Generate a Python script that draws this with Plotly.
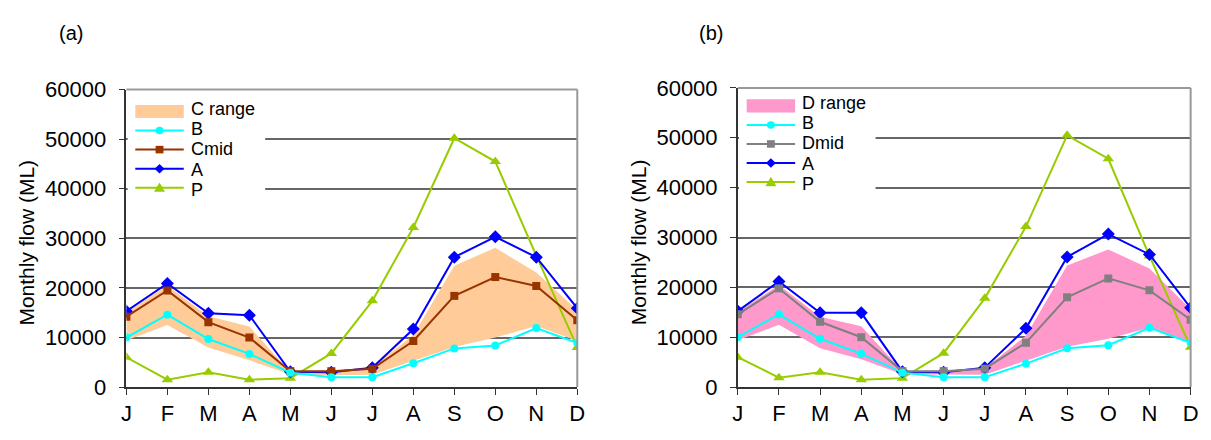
import plotly.graph_objects as go

W, H = 1211, 440

months = ["J", "F", "M", "A", "M", "J", "J", "A", "S", "O", "N", "D"]

# Panel (a)
a_B = [10000, 14600, 9700, 6700, 2900, 2000, 2000, 4800, 7800, 8400, 11900, 8900]
a_Cmid = [14200, 19500, 13100, 10000, 3200, 3200, 3700, 9300, 18400, 22200, 20400, 13500]
a_A = [15300, 20900, 14900, 14500, 3100, 3000, 3900, 11700, 26200, 30300, 26200, 15900]
a_P = [6000, 1500, 3000, 1500, 1800, 6800, 17400, 32200, 50200, 45500, 26500, 8000]
a_C_low = [9400, 12500, 8000, 5400, 2600, 2400, 2500, 5300, 8100, 10000, 12300, 9300]
a_C_high = [15000, 20500, 14300, 12200, 3000, 3300, 4000, 10500, 24500, 28100, 23100, 15500]

# Panel (b)
b_B = [10000, 14600, 9700, 6700, 2900, 2000, 2000, 4700, 7800, 8400, 11900, 8900]
b_Dmid = [14600, 19800, 13100, 10000, 3200, 3200, 3700, 8900, 18000, 21800, 19400, 13500]
b_A = [15250, 21200, 14900, 14900, 3100, 3000, 3900, 11800, 26100, 30700, 26600, 15900]
b_P = [6000, 1900, 3000, 1500, 1800, 6800, 17800, 32200, 50500, 45800, 26300, 8000]
b_D_low = [9400, 12500, 7800, 5600, 2600, 2500, 2500, 5300, 8100, 9700, 11900, 9000]
b_D_high = [15000, 20500, 14100, 12200, 3200, 3400, 3800, 10300, 24400, 27600, 23800, 15600]

yticks = [0, 10000, 20000, 30000, 40000, 50000, 60000]

C_RANGE = "#FFCC99"
D_RANGE = "#FF99CC"
C_B = "#00FFFF"
C_CMID = "#993300"
C_DMID = "#808080"
C_A = "#0000FF"
C_P = "#99CC00"

FONT = "Liberation Sans, Arial, sans-serif"
xpos = list(range(12))


def px(x):
    return x / W


def py(y):
    return 1 - y / H


fig = go.Figure()


def add_panel(xa, ya, low, high, rng_col, rng_name, B, mid, mid_col, mid_name, A, P):
    fig.add_trace(go.Scatter(x=xpos, y=low, mode="lines", line=dict(width=0, color=rng_col),
                             showlegend=False, hoverinfo="skip", xaxis=xa, yaxis=ya))
    fig.add_trace(go.Scatter(x=xpos, y=high, mode="lines", line=dict(width=0, color=rng_col),
                             fill="tonexty", fillcolor=rng_col, name=rng_name,
                             showlegend=False, xaxis=xa, yaxis=ya))
    fig.add_trace(go.Scatter(x=xpos, y=P, mode="lines+markers", name="P",
                             line=dict(color=C_P, width=2),
                             marker=dict(symbol="triangle-up", size=10, color=C_P),
                             showlegend=False, xaxis=xa, yaxis=ya))
    fig.add_trace(go.Scatter(x=xpos, y=A, mode="lines+markers", name="A",
                             line=dict(color=C_A, width=2),
                             marker=dict(symbol="diamond", size=10, color=C_A),
                             showlegend=False, xaxis=xa, yaxis=ya))
    fig.add_trace(go.Scatter(x=xpos, y=mid, mode="lines+markers", name=mid_name,
                             line=dict(color=mid_col, width=2),
                             marker=dict(symbol="square", size=8, color=mid_col),
                             showlegend=False, xaxis=xa, yaxis=ya))
    fig.add_trace(go.Scatter(x=xpos, y=B, mode="lines+markers", name="B",
                             line=dict(color=C_B, width=2),
                             marker=dict(symbol="circle", size=8, color=C_B),
                             showlegend=False, xaxis=xa, yaxis=ya))


add_panel("x", "y", a_C_low, a_C_high, C_RANGE, "C range", a_B, a_Cmid, C_CMID, "Cmid", a_A, a_P)
add_panel("x2", "y2", b_D_low, b_D_high, D_RANGE, "D range", b_B, b_Dmid, C_DMID, "Dmid", b_A, b_P)

# panel geometry (pixels)
panels = [
    dict(x0=122.7, x1=578.5, y0=82.3, y1=397.7),
    dict(x0=740.7, x1=1198.5, y0=80.5, y1=397.7),
]

xcommon = dict(range=[0, 11], tickmode="array", tickvals=xpos, ticktext=months,
               showgrid=False, zeroline=False, showline=True, linecolor="#333333",
               linewidth=1.5, ticks="outside", ticklen=6, tickcolor="#333333",
               tickfont=dict(family=FONT, size=22, color="black"))
ycommon = dict(range=[0, 60000], tickmode="array", tickvals=yticks, tickformat="d",
               showgrid=True, gridcolor="#666666", gridwidth=1.5, zeroline=False,
               showline=True, linecolor="#333333", linewidth=1.5,
               ticks="outside", ticklen=6, tickcolor="#333333",
               tickfont=dict(family=FONT, size=22, color="black"), ticklabelstandoff=8)

layout = dict(
    width=W, height=H, margin=dict(l=0, r=0, t=0, b=0),
    paper_bgcolor="white", plot_bgcolor="white", showlegend=False,
    font=dict(family=FONT, size=20, color="black"),
)
for i, p in enumerate(panels):
    sfx = "" if i == 0 else "2"
    layout["xaxis" + sfx] = dict(xcommon, domain=[px(p["x0"]), px(p["x1"])],
                                 anchor="y" + sfx)
    layout["yaxis" + sfx] = dict(ycommon, domain=[py(p["y1"]), py(p["y0"])],
                                 anchor="x" + sfx)
fig.update_layout(**layout)

shapes = []
annotations = []
for i, p in enumerate(panels):
    # right and top border
    shapes.append(dict(type="line", xref="paper", yref="paper", x0=px(p["x1"]), x1=px(p["x1"]),
                       y0=py(p["y0"]), y1=py(p["y1"]), line=dict(color="#999999", width=2), layer="above"))
    shapes.append(dict(type="line", xref="paper", yref="paper", x0=px(p["x0"]), x1=px(p["x1"]),
                       y0=py(p["y0"]), y1=py(p["y0"]), line=dict(color="#999999", width=2), layer="above"))

# custom legends (key symbols + one multi-line text block each)
ROW = 20.2
LEG_FONT = 18
legend_defs = [
    dict(ax=122.7, top=105.5, rng_col=C_RANGE, rng_name="C range", mid_col=C_CMID, mid_name="Cmid",
         bg=(124, 263, 85, 198)),
    dict(ax=740.7, top=99.5, rng_col=D_RANGE, rng_name="D range", mid_col=C_DMID, mid_name="Dmid",
         bg=(742, 880, 83, 192)),
]
for L in legend_defs:
    b = L["bg"]
    shapes.append(dict(type="rect", xref="paper", yref="paper", x0=px(b[0]), x1=px(b[1]),
                       y0=py(b[3]), y1=py(b[2]), fillcolor="white", line=dict(width=0), layer="above"))
    sx0 = L["ax"] + 9
    sx1 = sx0 + 49
    cx = (sx0 + sx1) / 2
    tx = L["ax"] + 63
    rows = [L["top"] + k * ROW for k in range(5)]
    shapes.append(dict(type="rect", xref="paper", yref="paper", x0=px(sx0), x1=px(sx1),
                       y0=py(rows[0] + 7), y1=py(rows[0] - 7), fillcolor=L["rng_col"],
                       line=dict(width=0), layer="above"))
    items = [(C_B, "circle"), (L["mid_col"], "square"), (C_A, "diamond"), (C_P, "triangle")]
    for k, (col, sym) in enumerate(items):
        yy = rows[k + 1]
        shapes.append(dict(type="line", xref="paper", yref="paper", x0=px(sx0), x1=px(sx1),
                           y0=py(yy), y1=py(yy), line=dict(color=col, width=2), layer="above"))
        if sym == "circle":
            r = 4
            shapes.append(dict(type="circle", xref="paper", yref="paper", x0=px(cx - r), x1=px(cx + r),
                               y0=py(yy + r), y1=py(yy - r), fillcolor=col, line=dict(width=0), layer="above"))
        elif sym == "square":
            r = 4
            shapes.append(dict(type="rect", xref="paper", yref="paper", x0=px(cx - r), x1=px(cx + r),
                               y0=py(yy + r), y1=py(yy - r), fillcolor=col, line=dict(width=0), layer="above"))
        elif sym == "diamond":
            r = 5
            path = "M {} {} L {} {} L {} {} L {} {} Z".format(px(cx), py(yy - r), px(cx + r), py(yy),
                                                             px(cx), py(yy + r), px(cx - r), py(yy))
            shapes.append(dict(type="path", xref="paper", yref="paper", path=path, fillcolor=col,
                               line=dict(width=0), layer="above"))
        else:
            r = 5.5
            path = "M {} {} L {} {} L {} {} Z".format(px(cx), py(yy - r), px(cx + r), py(yy + r * 0.8),
                                                     px(cx - r), py(yy + r * 0.8))
            shapes.append(dict(type="path", xref="paper", yref="paper", path=path, fillcolor=col,
                               line=dict(width=0), layer="above"))
    names = [L["rng_name"], "B", L["mid_name"], "A", "P"]
    txt = "<br>".join('<span style="font-size:{}px">{}</span>'.format(LEG_FONT, n) for n in names)
    annotations.append(dict(text=txt, xref="paper", yref="paper", x=px(tx), y=py(rows[2]),
                            xanchor="left", yanchor="middle", align="left", showarrow=False,
                            font=dict(family=FONT, size=ROW / 1.3, color="black")))

# panel labels and axis titles
annotations.append(dict(text="(a)", xref="paper", yref="paper", x=px(66.5), y=py(22.5),
                        xanchor="center", yanchor="middle", showarrow=False,
                        font=dict(family=FONT, size=20, color="black")))
annotations.append(dict(text="(b)", xref="paper", yref="paper", x=px(714), y=py(22.5),
                        xanchor="center", yanchor="middle", showarrow=False,
                        font=dict(family=FONT, size=20, color="black")))
for cxp in (21.7, 640):
    annotations.append(dict(text="Monthly flow (ML)", xref="paper", yref="paper", x=px(cxp), y=py(244),
                            xanchor="center", yanchor="middle", textangle=-90, showarrow=False,
                            font=dict(family=FONT, size=21, color="black")))

fig.update_layout(shapes=shapes, annotations=annotations)
fig.write_html("out.html")
